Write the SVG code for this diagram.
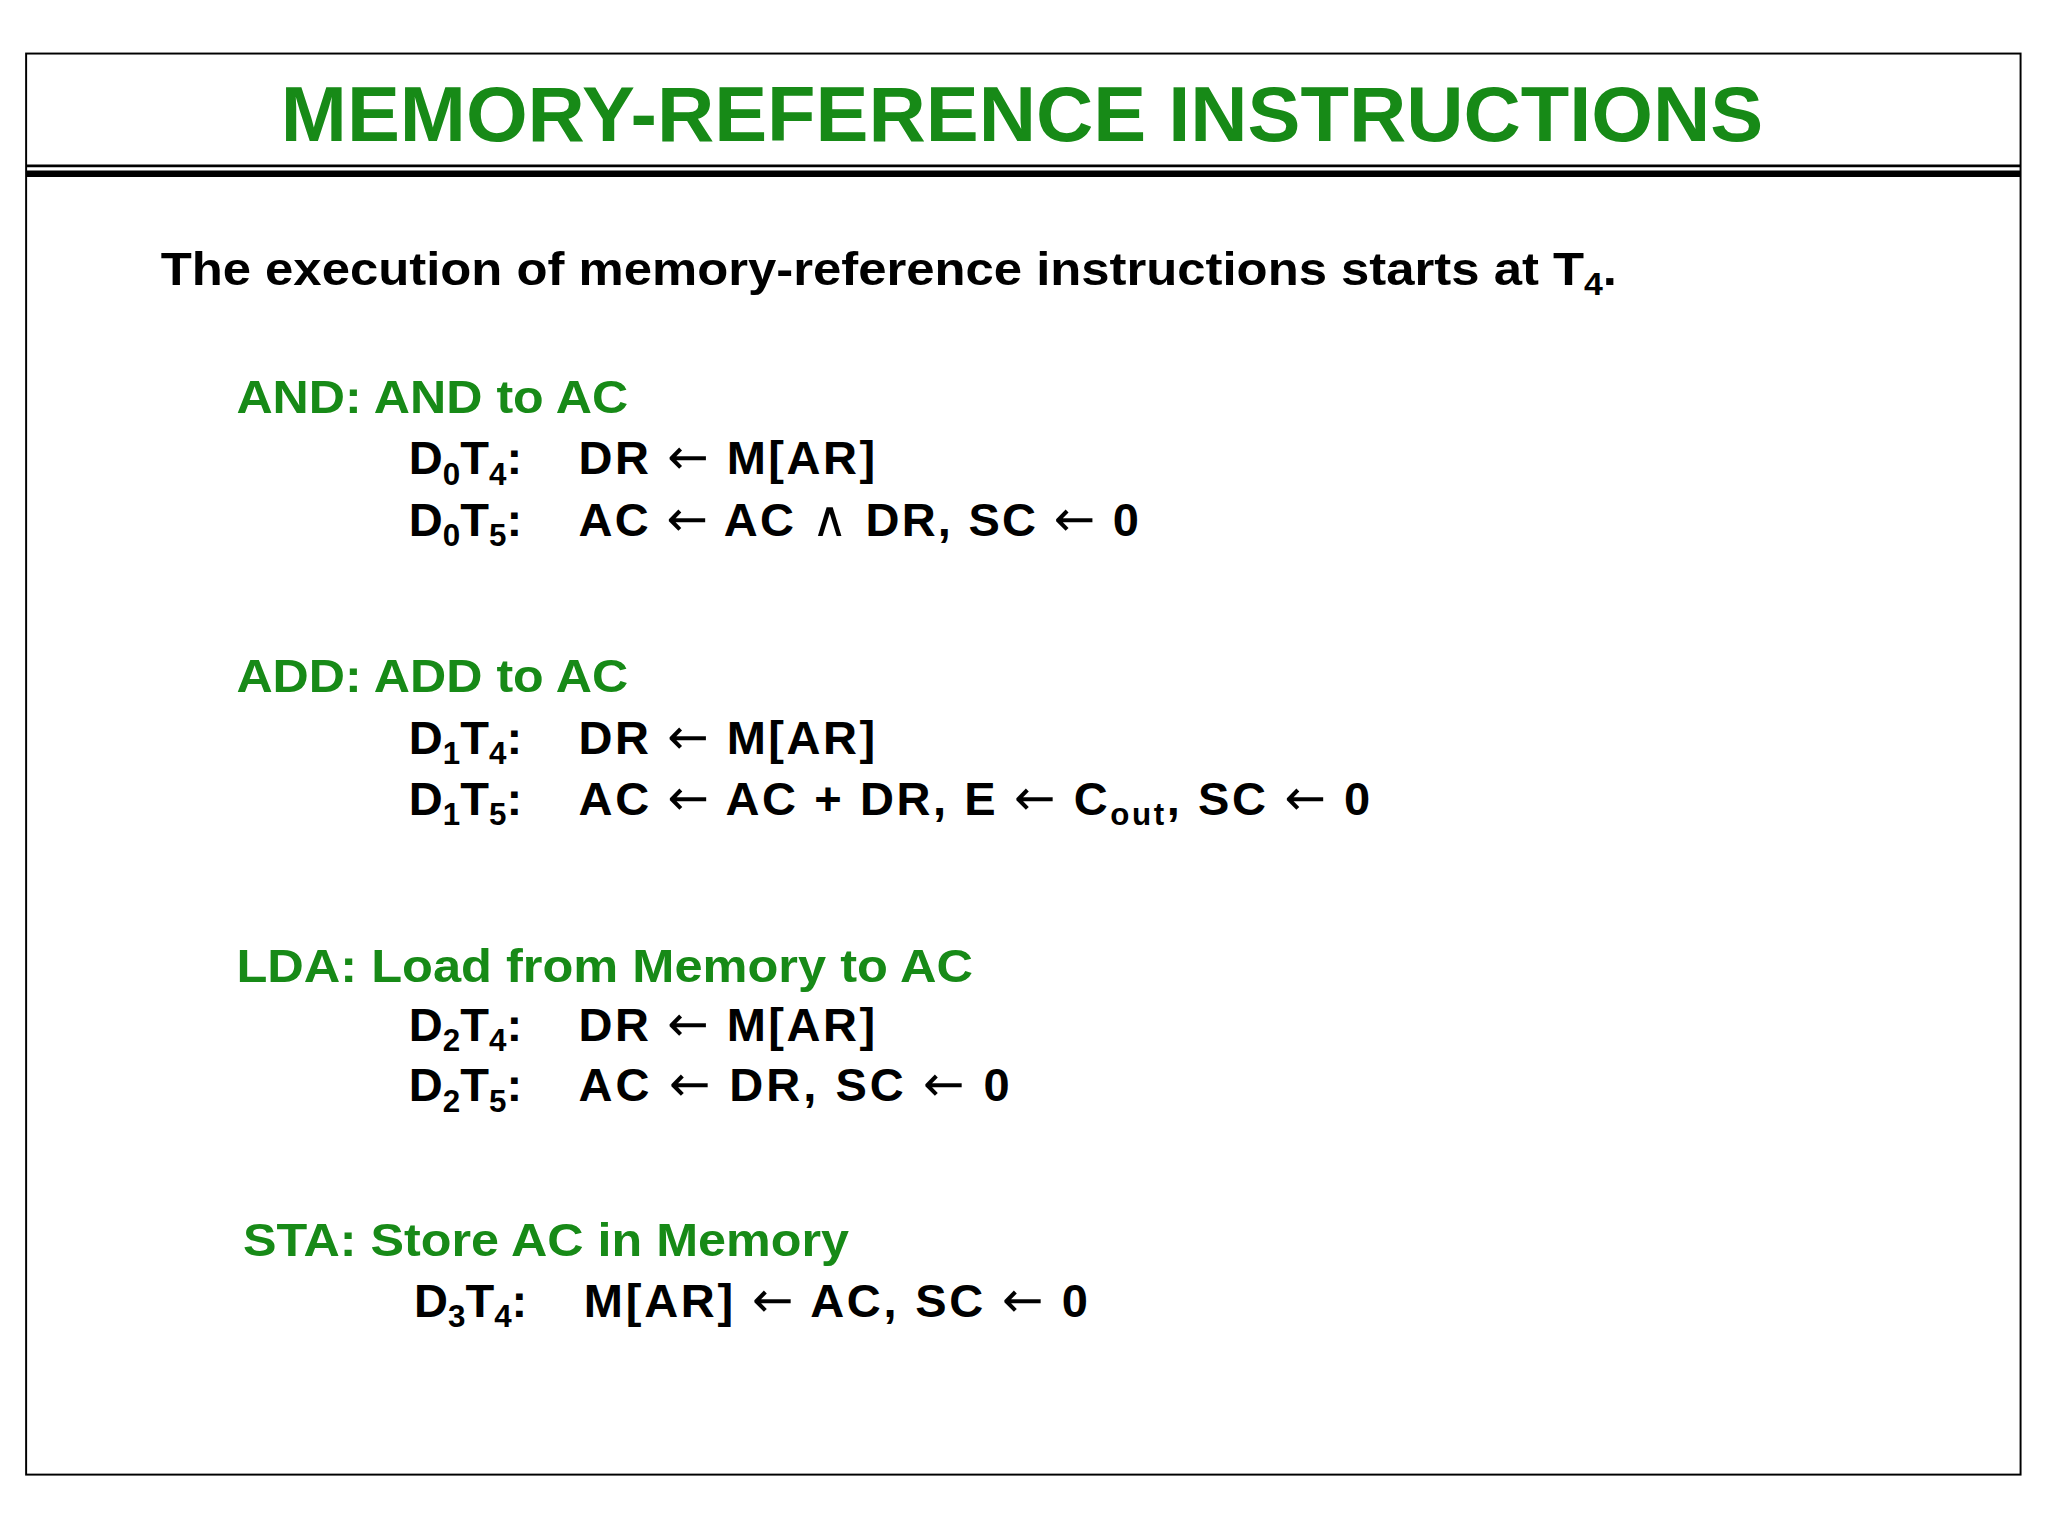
<svg xmlns="http://www.w3.org/2000/svg" width="2048" height="1536" viewBox="0 0 2048 1536">
<style>
text{font-family:"Liberation Sans",Arial,sans-serif;font-weight:bold}
.g{fill:#178a17;font-size:36px}
.b{fill:#000;font-size:36px}
.s{font-size:24px}
.a{font-family:"DejaVu Sans",sans-serif;font-weight:normal;font-size:38px}
</style>
<rect width="2048" height="1536" fill="#fff"/>
<g transform="scale(1.30612)">
<rect x="20" y="41" width="1527" height="1088" fill="none" stroke="#000" stroke-width="1.5"/>
<line x1="20" y1="127" x2="1547" y2="127" stroke="#000" stroke-width="2"/>
<line x1="20" y1="133" x2="1547" y2="133" stroke="#000" stroke-width="5"/>
<g id="title"><text x="215" y="108" fill="#178a17" font-size="60" textLength="1135" lengthAdjust="spacingAndGlyphs">MEMORY-REFERENCE INSTRUCTIONS</text></g>
<g id="intro"><text class="b" x="123" y="218" textLength="1115" lengthAdjust="spacingAndGlyphs">The execution of memory-reference instructions starts at T<tspan class="s" dy="8">4</tspan><tspan dy="-8">.</tspan></text></g>
<g id="and">
<text class="g" x="181" y="316" textLength="300" lengthAdjust="spacingAndGlyphs">AND: AND to AC</text>
<text class="b" x="313" y="363">D<tspan class="s" dy="8">0</tspan><tspan dy="-8">T</tspan><tspan class="s" dy="8">4</tspan><tspan dy="-8">:</tspan></text>
<text class="b" x="443" y="363" textLength="227">DR <tspan class="a">←</tspan> M[AR]</text>
<text class="b" x="313" y="410">D<tspan class="s" dy="8">0</tspan><tspan dy="-8">T</tspan><tspan class="s" dy="8">5</tspan><tspan dy="-8">:</tspan></text>
<text class="b" x="443" y="410" textLength="429">AC <tspan class="a">←</tspan> AC <tspan class="a" font-size="22">∧</tspan> DR, SC <tspan class="a">←</tspan> 0</text>
</g>
<g id="add">
<text class="g" x="181" y="530" textLength="300" lengthAdjust="spacingAndGlyphs">ADD: ADD to AC</text>
<text class="b" x="313" y="577">D<tspan class="s" dy="8">1</tspan><tspan dy="-8">T</tspan><tspan class="s" dy="8">4</tspan><tspan dy="-8">:</tspan></text>
<text class="b" x="443" y="577" textLength="227">DR <tspan class="a">←</tspan> M[AR]</text>
<text class="b" x="313" y="624">D<tspan class="s" dy="8">1</tspan><tspan dy="-8">T</tspan><tspan class="s" dy="8">5</tspan><tspan dy="-8">:</tspan></text>
<text class="b" x="443" y="624" textLength="606">AC <tspan class="a">←</tspan> AC + DR, E <tspan class="a">←</tspan> C<tspan class="s" dy="8">out</tspan><tspan dy="-8">, SC </tspan><tspan class="a">←</tspan> 0</text>
</g>
<g id="lda">
<text class="g" x="181" y="752" textLength="564" lengthAdjust="spacingAndGlyphs">LDA: Load from Memory to AC</text>
<text class="b" x="313" y="797">D<tspan class="s" dy="8">2</tspan><tspan dy="-8">T</tspan><tspan class="s" dy="8">4</tspan><tspan dy="-8">:</tspan></text>
<text class="b" x="443" y="797" textLength="227">DR <tspan class="a">←</tspan> M[AR]</text>
<text class="b" x="313" y="843">D<tspan class="s" dy="8">2</tspan><tspan dy="-8">T</tspan><tspan class="s" dy="8">5</tspan><tspan dy="-8">:</tspan></text>
<text class="b" x="443" y="843" textLength="330">AC <tspan class="a">←</tspan> DR, SC <tspan class="a">←</tspan> 0</text>
</g>
<g id="sta">
<text class="g" x="186" y="962" textLength="464" lengthAdjust="spacingAndGlyphs">STA: Store AC in Memory</text>
<text class="b" x="317" y="1008">D<tspan class="s" dy="8">3</tspan><tspan dy="-8">T</tspan><tspan class="s" dy="8">4</tspan><tspan dy="-8">:</tspan></text>
<text class="b" x="447" y="1008" textLength="386">M[AR] <tspan class="a">←</tspan> AC, SC <tspan class="a">←</tspan> 0</text>
</g>
</g>
</svg>
